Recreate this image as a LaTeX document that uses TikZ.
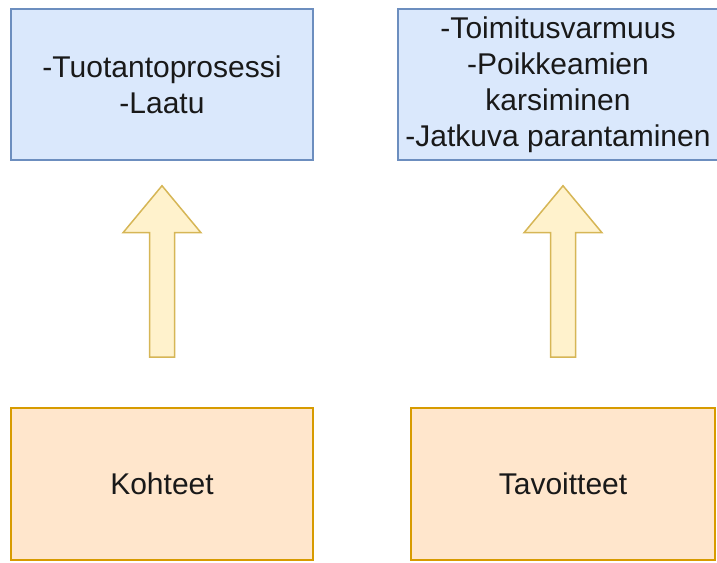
\documentclass[tikz,border=0pt]{standalone}
\usepackage{fontspec}
\setmainfont{Liberation Sans}
\usetikzlibrary{calc}
\definecolor{bluefill}{HTML}{DAE8FC}
\definecolor{bluedraw}{HTML}{6C8EBF}
\definecolor{orangefill}{HTML}{FFE6CC}
\definecolor{orangedraw}{HTML}{D79B00}
\definecolor{yellowfill}{HTML}{FFF2CC}
\definecolor{yellowdraw}{HTML}{D6B656}
\tikzset{
  txt/.style={font=\fontsize{30}{36}\selectfont, align=center, text=black!90, inner sep=0pt},
  bluebox/.style={txt, draw=bluedraw, fill=bluefill, line width=1.5pt},
  orangebox/.style={txt, draw=orangedraw, fill=orangefill, line width=1.5pt},
  blockarrow/.style={draw=yellowdraw, fill=yellowfill, line width=1.5pt, line join=miter}
}
\begin{document}
\begin{tikzpicture}[x=1pt,y=1pt]
\useasboundingbox (0,0) rectangle (717,562);
\node[bluebox, minimum width=302pt, minimum height=151pt] (tl) at (162,477.5) {-Tuotantoprosessi\\-Laatu};
\node[bluebox, minimum width=320pt, minimum height=151pt] (tr) at (558,477.5) {-Toimitusvarmuus\\-Poikkeamien\\karsiminen\\-Jatkuva parantaminen};
\node[orangebox, minimum width=302pt, minimum height=152pt] (bl) at (162,78) {Kohteet};
\node[orangebox, minimum width=304pt, minimum height=152pt] (br) at (563,78) {Tavoitteet};
% block arrows
\foreach \src/\dst in {bl/tl, br/tr} {
  \coordinate (tail) at ($(\src.north)+(0,50)$);
  \coordinate (tip) at ($(\src.north |- \dst.south)+(0,-25)$);
  \draw[blockarrow]
    ($(tail)+(-12.5,0)$) -- ($(tail)+(12.5,0)$)
    -- ($(tip)+(12.5,-47)$) -- ($(tip)+(39,-47)$)
    -- (tip)
    -- ($(tip)+(-39,-47)$) -- ($(tip)+(-12.5,-47)$)
    -- cycle;
}
\end{tikzpicture}
\end{document}
